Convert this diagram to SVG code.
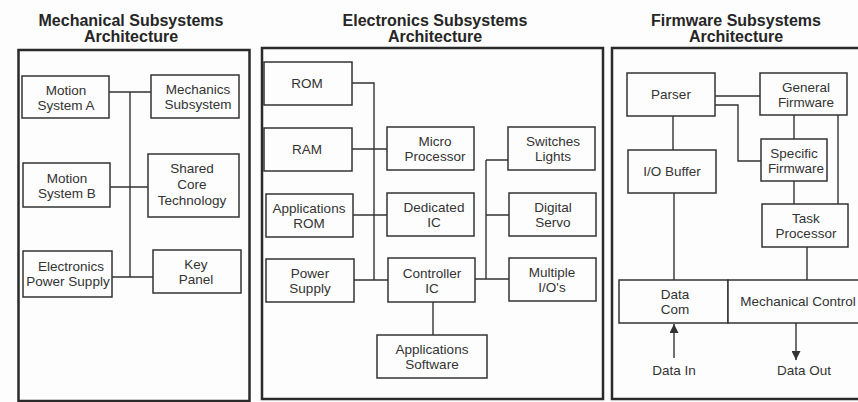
<svg xmlns="http://www.w3.org/2000/svg" width="858" height="402" viewBox="0 0 858 402">
  <style>
    .frame { fill: none; stroke: #2a2a2a; stroke-width: 2.5; }
    .box { fill: #fdfdfd; stroke: #333; stroke-width: 1.5; }
    .wire { fill: none; stroke: #333; stroke-width: 1.4; }
    .title { font-family: "Liberation Sans", Arial, sans-serif; font-weight: bold; font-size: 16px; fill: #262626; text-anchor: middle; }
    .lbl { font-family: "Liberation Sans", Arial, sans-serif; font-size: 13.5px; fill: #333; text-anchor: middle; }
  </style>
  <defs>
    <marker id="arrow" viewBox="0 0 10 10" refX="10" refY="5" markerWidth="12" markerHeight="9" markerUnits="userSpaceOnUse" orient="auto">
      <path d="M0,0 L10,5 L0,10 Z" fill="#333"/>
    </marker>
  </defs>
  <rect width="858" height="402" fill="#fdfdfd"/>

  <!-- Panel titles -->
  <g id="titles">
    <text class="title" x="131" y="26">Mechanical Subsystems</text>
    <text class="title" x="131" y="42">Architecture</text>
    <text class="title" x="435" y="26">Electronics Subsystems</text>
    <text class="title" x="435" y="42">Architecture</text>
    <text class="title" x="736" y="26">Firmware Subsystems</text>
    <text class="title" x="736" y="42">Architecture</text>
  </g>

  <!-- Panel frames -->
  <g id="frames">
    <rect class="frame" x="18.5" y="50" width="231" height="351"/>
    <rect class="frame" x="262" y="48" width="341" height="351"/>
    <rect class="frame" x="612" y="48" width="250" height="351"/>
  </g>

  <!-- Connectors -->
  <g id="connectors">
    <!-- mechanical bus -->
    <path class="wire" d="M130,92 V277 M109,92 H151 M110,187 H148 M112,277 H153"/>
    <!-- electronics: memory / supply bus -->
    <path class="wire" d="M352,83 H374 V280 M352,149 H387 M353,215 H387 M354,280 H388"/>
    <!-- electronics: controller I/O bus -->
    <path class="wire" d="M475,279 H486 M486,160 V279 M486,160 H508 M486,215 H509 M486,279 H509"/>
    <path class="wire" d="M433,302 V335"/>
    <!-- firmware links -->
    <path class="wire" d="M715,96 H760 M715,105 H738 V161 H761 M673,116 V150 M674,193 V280 M794,115 V139 M838,115 V204 M794,181 V204 M807,247 V280"/>
    <path class="wire" d="M674,358 V324" marker-end="url(#arrow)"/>
    <path class="wire" d="M796,323 V360" marker-end="url(#arrow)"/>
  </g>

  <!-- Mechanical subsystems -->
  <g id="motion-system-a">
    <rect class="box" x="22" y="76" width="87" height="42"/>
    <text class="lbl" x="66" y="95">Motion</text>
    <text class="lbl" x="66" y="110">System A</text>
  </g>
  <g id="mechanics-subsystem">
    <rect class="box" x="151" y="75" width="88" height="43"/>
    <text class="lbl" x="198" y="94">Mechanics</text>
    <text class="lbl" x="198" y="109">Subsystem</text>
  </g>
  <g id="motion-system-b">
    <rect class="box" x="23" y="163" width="87" height="44"/>
    <text class="lbl" x="67" y="183">Motion</text>
    <text class="lbl" x="67" y="198">System B</text>
  </g>
  <g id="shared-core-technology">
    <rect class="box" x="148" y="154" width="91" height="63"/>
    <text class="lbl" x="192" y="173">Shared</text>
    <text class="lbl" x="192" y="189">Core</text>
    <text class="lbl" x="192" y="205">Technology</text>
  </g>
  <g id="electronics-power-supply">
    <rect class="box" x="23" y="251" width="89" height="46"/>
    <text class="lbl" x="71" y="271">Electronics</text>
    <text class="lbl" x="68" y="286">Power Supply</text>
  </g>
  <g id="key-panel">
    <rect class="box" x="153" y="250" width="88" height="43"/>
    <text class="lbl" x="196" y="269">Key</text>
    <text class="lbl" x="196" y="284">Panel</text>
  </g>

  <!-- Electronics subsystems -->
  <g id="rom">
    <rect class="box" x="264" y="62" width="88" height="43"/>
    <text class="lbl" x="307" y="88">ROM</text>
  </g>
  <g id="ram">
    <rect class="box" x="264" y="128" width="88" height="43"/>
    <text class="lbl" x="307" y="154">RAM</text>
  </g>
  <g id="applications-rom">
    <rect class="box" x="266" y="194" width="87" height="43"/>
    <text class="lbl" x="309" y="213">Applications</text>
    <text class="lbl" x="309" y="228">ROM</text>
  </g>
  <g id="power-supply">
    <rect class="box" x="266" y="259" width="88" height="43"/>
    <text class="lbl" x="310" y="278">Power</text>
    <text class="lbl" x="310" y="293">Supply</text>
  </g>
  <g id="micro-processor">
    <rect class="box" x="387" y="127" width="87" height="43"/>
    <text class="lbl" x="435" y="146">Micro</text>
    <text class="lbl" x="435" y="161">Processor</text>
  </g>
  <g id="dedicated-ic">
    <rect class="box" x="387" y="193" width="87" height="43"/>
    <text class="lbl" x="434" y="212">Dedicated</text>
    <text class="lbl" x="434" y="227">IC</text>
  </g>
  <g id="controller-ic">
    <rect class="box" x="388" y="258" width="87" height="44"/>
    <text class="lbl" x="432" y="278">Controller</text>
    <text class="lbl" x="432" y="293">IC</text>
  </g>
  <g id="applications-software">
    <rect class="box" x="377" y="335" width="110" height="43"/>
    <text class="lbl" x="432" y="354">Applications</text>
    <text class="lbl" x="432" y="369">Software</text>
  </g>
  <g id="switches-lights">
    <rect class="box" x="508" y="127" width="87" height="43"/>
    <text class="lbl" x="553" y="146">Switches</text>
    <text class="lbl" x="553" y="161">Lights</text>
  </g>
  <g id="digital-servo">
    <rect class="box" x="509" y="193" width="87" height="43"/>
    <text class="lbl" x="553" y="212">Digital</text>
    <text class="lbl" x="553" y="227">Servo</text>
  </g>
  <g id="multiple-ios">
    <rect class="box" x="509" y="258" width="87" height="43"/>
    <text class="lbl" x="552" y="277">Multiple</text>
    <text class="lbl" x="552" y="292">I/O's</text>
  </g>

  <!-- Firmware subsystems -->
  <g id="parser">
    <rect class="box" x="627" y="73" width="88" height="43"/>
    <text class="lbl" x="671" y="99">Parser</text>
  </g>
  <g id="general-firmware">
    <rect class="box" x="760" y="73" width="87" height="42"/>
    <text class="lbl" x="806" y="92">General</text>
    <text class="lbl" x="806" y="107">Firmware</text>
  </g>
  <g id="io-buffer">
    <rect class="box" x="628" y="150" width="88" height="43"/>
    <text class="lbl" x="672" y="176">I/O Buffer</text>
  </g>
  <g id="specific-firmware">
    <rect class="box" x="761" y="139" width="66" height="42"/>
    <text class="lbl" x="794" y="158">Specific</text>
    <text class="lbl" x="796" y="173">Firmware</text>
  </g>
  <g id="task-processor">
    <rect class="box" x="762" y="204" width="86" height="43"/>
    <text class="lbl" x="806" y="223">Task</text>
    <text class="lbl" x="806" y="238">Processor</text>
  </g>
  <g id="data-com">
    <rect class="box" x="619" y="280" width="109" height="43"/>
    <text class="lbl" x="675" y="299">Data</text>
    <text class="lbl" x="675" y="314">Com</text>
  </g>
  <g id="mechanical-control">
    <rect class="box" x="728" y="280" width="134" height="43"/>
    <text class="lbl" x="798" y="306">Mechanical Control</text>
  </g>
  <g id="io-labels">
    <text class="lbl" x="674" y="375">Data In</text>
    <text class="lbl" x="804" y="375">Data Out</text>
  </g>
</svg>
